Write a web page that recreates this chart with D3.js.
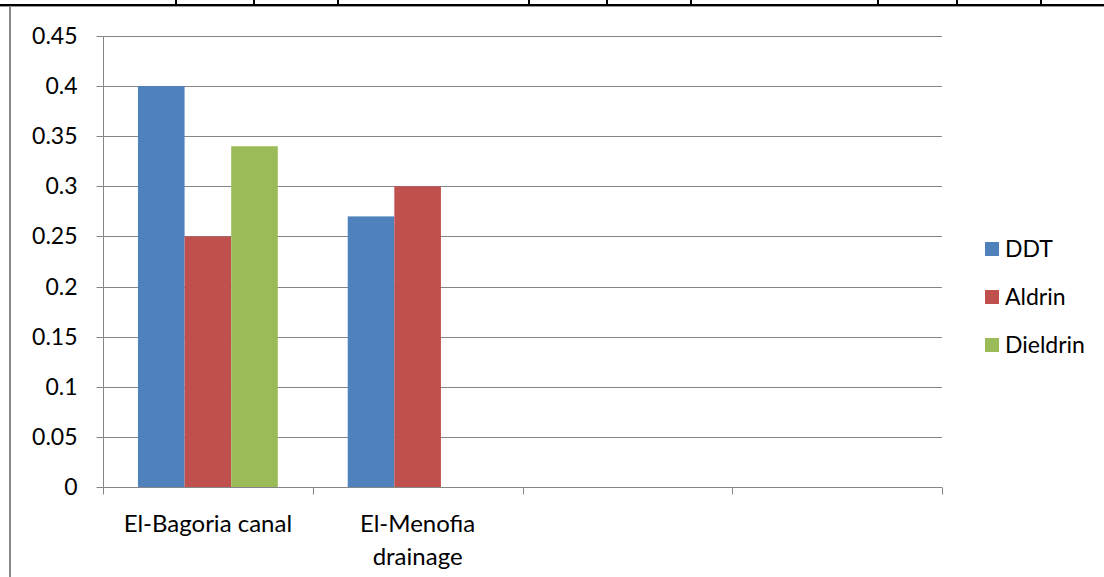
<!DOCTYPE html>
<html><head><meta charset="utf-8">
<script src="https://cdn.jsdelivr.net/npm/d3@7"></script>
<style>html,body{margin:0;padding:0;background:#fff;}svg{display:block;}</style>
</head><body>
<script>
const categories = [["El-Bagoria canal"], ["El-Menofia", "drainage"], [""], [""]];
const seriesNames = ["DDT", "Aldrin", "Dieldrin"];
const seriesColors = ["#4F81BD", "#C0504D", "#9BBB59"];
const DDT = [0.40, 0.27, null, null];
const Aldrin = [0.25, 0.30, null, null];
const Dieldrin = [0.34, null, null, null];
const yTicks = [0, 0.05, 0.1, 0.15, 0.2, 0.25, 0.3, 0.35, 0.4, 0.45];
const tableLineX = [176, 254, 338, 529, 607, 691, 878, 957, 1041];

const series = [DDT, Aldrin, Dieldrin];
const W = 1104, H = 577;
const svg = d3.select("body").append("svg").attr("width", W).attr("height", H);
const font = "Lato, 'Open Sans', sans-serif";
const fs = 23;

// page fragments: table bottom border and cell lines
svg.append("rect").attr("x", 0).attr("y", 4).attr("width", W).attr("height", 2).attr("fill", "#000");
svg.append("rect").attr("x", 0).attr("y", 6).attr("width", W).attr("height", 1).attr("fill", "#9a9a9a");
tableLineX.forEach(x => svg.append("rect").attr("x", x - 1).attr("y", 0).attr("width", 2).attr("height", 5).attr("fill", "#000"));
svg.append("rect").attr("x", 9).attr("y", 7).attr("width", 2).attr("height", H - 7).attr("fill", "#8a8a8a");

const x0 = 103, x1 = 942, yTop = 36, yBot = 487;
const x = d3.scaleBand().domain(d3.range(categories.length)).range([x0, x1]).paddingInner(0).paddingOuter(0);
const y = d3.scaleLinear().domain([0, 0.45]).range([yBot, yTop]);
const inner = d3.scaleBand().domain(d3.range(series.length)).range([0, x.bandwidth()]).paddingOuter(0.75).paddingInner(0);

// gridlines
svg.append("g").selectAll("line").data(yTicks.filter(t => t > 0)).join("line")
  .attr("x1", x0).attr("x2", x1).attr("y1", d => Math.round(y(d)) + 0.5).attr("y2", d => Math.round(y(d)) + 0.5)
  .attr("stroke", "#868686").attr("stroke-width", 1);

// bars
series.forEach((vals, si) => {
  svg.append("g").selectAll("rect").data(vals.map((v, i) => ({v, i})).filter(d => d.v != null)).join("rect")
    .attr("x", d => x(d.i) + inner(si))
    .attr("width", inner.bandwidth())
    .attr("y", d => y(d.v))
    .attr("height", d => y(0) - y(d.v))
    .attr("fill", seriesColors[si]);
});

// y axis
const yAxis = d3.axisLeft(y).tickValues(yTicks).tickSize(7).tickPadding(19).tickFormat(d => d3.format("")(+d.toFixed(2)));
const gy = svg.append("g").attr("transform", `translate(${x0 + 0.5},0)`).call(yAxis);
gy.selectAll("line").attr("stroke", "#868686");
gy.select(".domain").attr("stroke", "#868686").attr("d", `M0,${yTop}V${yBot}`);
gy.selectAll(".tick").attr("transform", d => `translate(0,${Math.round(y(d)) + 0.5})`);
gy.selectAll("text").attr("font-family", font).attr("font-size", fs).attr("fill", "#000");

// x axis
const gx = svg.append("g").attr("transform", `translate(0,${yBot + 0.5})`);
gx.append("line").attr("x1", x0).attr("x2", x1).attr("stroke", "#868686");
const bounds = d3.range(categories.length + 1).map(i => i < categories.length ? x(i) : x1);
gx.selectAll("line.tk").data(bounds).join("line").attr("class", "tk")
  .attr("x1", d => Math.round(d) + 0.5).attr("x2", d => Math.round(d) + 0.5).attr("y1", 0).attr("y2", 7).attr("stroke", "#868686");
categories.forEach((lines, i) => {
  lines.forEach((ln, j) => {
    svg.append("text").attr("x", x(i) + x.bandwidth() / 2).attr("y", 532 + j * 33)
      .attr("text-anchor", "middle").attr("font-family", font).attr("font-size", 24).attr("fill", "#000").text(ln);
  });
});

// legend
const lg = svg.append("g");
seriesNames.forEach((n, i) => {
  const ly = 249 + i * 48;
  lg.append("rect").attr("x", 985).attr("y", ly - 7).attr("width", 14).attr("height", 14).attr("fill", seriesColors[i]);
  lg.append("text").attr("x", 1005).attr("y", ly + 8).attr("font-family", font).attr("font-size", fs).attr("fill", "#000").text(n);
});
</script>
</body></html>
